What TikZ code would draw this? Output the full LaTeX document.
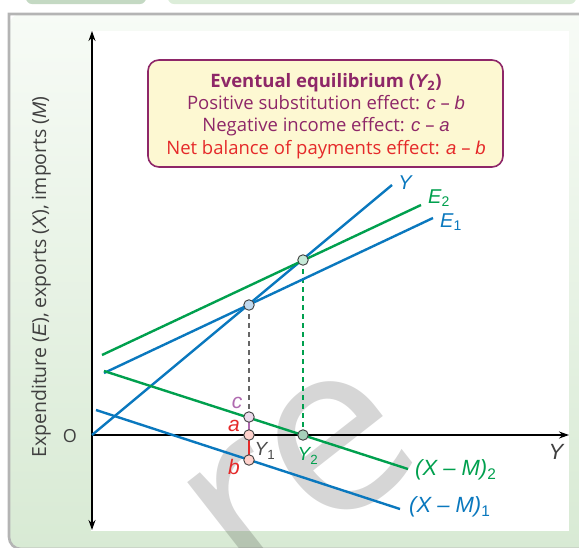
\documentclass[tikz,border=0pt]{standalone}
\usepackage{fontspec}
\setmainfont{Open Sans}
\newfontfamily\obl{Liberation Sans}
\newcommand{\ob}[1]{{\obl\itshape #1}}
\usetikzlibrary{arrows.meta}
\definecolor{lblue}{HTML}{0A78BE}
\definecolor{lgreen}{HTML}{00A04E}
\definecolor{lred}{HTML}{E52A2A}
\definecolor{lpurple}{HTML}{8E2768}
\definecolor{cpurple}{HTML}{B06AB0}
\definecolor{boxfill}{HTML}{FDF8D2}
\definecolor{panelTop}{HTML}{F7FBF6}
\definecolor{panelBot}{HTML}{D8EAD4}
\definecolor{tabA}{HTML}{C4D9C3}
\definecolor{tabB}{HTML}{DCEDD9}
\definecolor{bordergrey}{HTML}{B4B4B4}
\tikzset{
  curve/.style={line width=2.4pt},
  axis/.style={line width=1.2pt, black},
  pt/.style={circle, draw=black!75, line width=0.9pt, minimum size=10.5pt, inner sep=0pt},
  lab/.style={font=\fontsize{21}{23}\selectfont\obl\itshape, inner sep=0pt},
  dashline/.style={line width=1.1pt, dash pattern=on 5pt off 4pt},
}
\begin{document}
\begin{tikzpicture}[x=1pt,y=-1pt]
\useasboundingbox (0,0) rectangle (579,547);
% top tabs
\fill[tabA, rounded corners=6pt] (26,-12) rectangle (146,4);
\fill[tabB, rounded corners=6pt] (168,-12) rectangle (576,4);
% panel
\shade[top color=panelTop, bottom color=panelBot, rounded corners=12pt] (9,14) rectangle (600,549);
\draw[bordergrey, line width=2.6pt] (600,14) -- (9,14) [rounded corners=12pt] -- (9,549) -- (600,549);
% white plot area
\fill[white] (91,31) rectangle (569,531);
% watermark
\node[text=black, text opacity=0.16, font=\fontsize{240}{240}\selectfont, rotate=38, inner sep=0pt] (wm) at (301,476) {re};
% coordinates
\coordinate (O) at (92,435);
\coordinate (P1) at (249,305);
\coordinate (P2) at (303,260);
\coordinate (cpt) at (249,417);
\coordinate (apt) at (249,435);
\coordinate (bpt) at (249,460);
\coordinate (Ytwo) at (303,435);
\coordinate (Yend) at (392,185);
\coordinate (E1s) at (104,373);
\coordinate (E1e) at (433,218);
\coordinate (E2s) at (102,355);
\coordinate (E2e) at (421,205);
\coordinate (XM2s) at (104,371);
\coordinate (XM2e) at (408,469);
\coordinate (XM1s) at (96,410);
\coordinate (XM1e) at (400,509);
\coordinate (vtop) at (92,31);
\coordinate (vbot) at (92,530);
\coordinate (hend) at (569,435);
% dashed lines
\draw[dashline, black!60] (P1) -- (cpt);
\draw[dashline, lgreen] (P2) -- (Ytwo);
% axes
\draw[axis, {Stealth[length=10pt,width=7pt]}-{Stealth[length=10pt,width=7pt]}] (vbot) -- (vtop);
\draw[axis, -{Stealth[length=10pt,width=7pt]}] (O) -- (hend);
% curves
\draw[curve, lblue] (O) -- (Yend);
\draw[curve, lblue] (E1s) -- (E1e);
\draw[curve, lgreen] (E2s) -- (E2e);
\draw[curve, lgreen] (XM2s) -- (XM2e);
\draw[curve, lblue] (XM1s) -- (XM1e);
% effect segments
\draw[line width=2.4pt, lred] (apt) -- (bpt);
\draw[line width=2.4pt, cpurple] (cpt) -- (apt);
% points
\node[pt, fill=blue!10!lblue!25] (n1) at (P1) {};
\node[pt, fill=lgreen!22] (n2) at (P2) {};
\node[pt, fill=cpurple!25] (nc) at (cpt) {};
\node[pt, fill=orange!25!red!20] (na) at (apt) {};
\node[pt, fill=orange!25!red!20] (nb) at (bpt) {};
\node[pt, fill=black!25!lgreen!35] (ny2) at (Ytwo) {};
% labels
\node[lab, text=lblue, font=\fontsize{20}{22}\selectfont\obl\itshape] (tY) at (405,183) {Y};
\node[lab, text=lgreen, font=\fontsize{20}{22}\selectfont\obl\itshape] (tE2) at (439,198) {E\textsubscript{\upshape 2}};
\node[lab, text=lblue, font=\fontsize{20}{22}\selectfont\obl\itshape] (tE1) at (451,222) {E\textsubscript{\upshape 1}};
\node[lab, text=lgreen, anchor=west, font=\fontsize{22}{24}\selectfont\obl\itshape] (tXM2) at (415,470) {(X – M)\textsubscript{\upshape 2}};
\node[lab, text=lblue, anchor=west, font=\fontsize{22}{24}\selectfont\obl\itshape] (tXM1) at (409,507) {(X – M)\textsubscript{\upshape 1}};
\node[lab, text=black!75, font=\fontsize{22}{24}\selectfont\obl\itshape] (tYax) at (556,452) {Y};
\node[lab, text=cpurple] (tc) at (237,403) {c};
\node[lab, text=lred] (ta) at (234,426) {a};
\node[lab, text=lred] (tb) at (234,467) {b};
\node[lab, text=black!70, font=\fontsize{19}{21}\selectfont\obl\itshape] (tY1) at (265,451) {Y\textsubscript{\upshape 1}};
\node[lab, text=lgreen, font=\fontsize{19}{21}\selectfont\obl\itshape] (tY2) at (308,456) {Y\textsubscript{\upshape 2}};
\node[font=\fontsize{18}{20}\selectfont, text=black!75, inner sep=0pt] (tO) at (70,436) {O};
\node[font=\fontsize{19.5}{21}\selectfont, text=black!75, rotate=90, inner sep=0pt] (tyax) at (41,277) {Expenditure (\ob{E}), exports (\ob{X}), imports (\ob{M})};
% info box
\node[draw=lpurple, line width=1.6pt, fill=boxfill, rounded corners=11pt, minimum width=355pt, minimum height=107pt, inner sep=0pt] (box) at (325.5,113.5) {};
\node[align=center, font=\fontsize{18.5}{22.3}\selectfont, text=lpurple, inner sep=0pt] (boxtxt) at (326,116) {%
\textbf{Eventual equilibrium (\ob{\bfseries Y}\textsubscript{2})}\\
Positive substitution effect: \ob{c} – \ob{b}\\
Negative income effect: \ob{c} – \ob{a}\\
\textcolor{lred}{Net balance of payments effect: \ob{a} – \ob{b}}};
\end{tikzpicture}
\end{document}
